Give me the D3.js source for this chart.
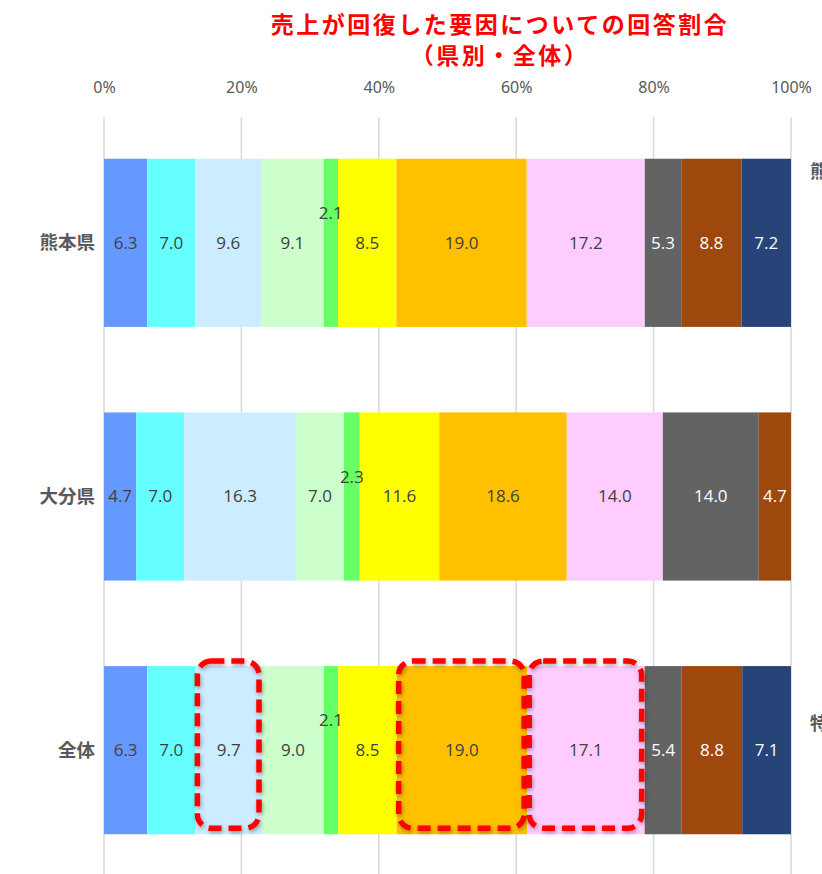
<!DOCTYPE html>
<html>
<head>
<meta charset="utf-8">
<script src="https://cdn.jsdelivr.net/npm/d3@7"></script>
<style>
  body { margin: 0; background: #fff; }
  svg { display: block; }
</style>
</head>
<body>
<svg id="chart" width="822" height="874"></svg>
<script>
// categories (rows) and series values (percent)
var categories = ["熊本県", "大分県", "全体"];
var kumamoto = [6.3, 7.0, 9.6, 9.1, 2.1, 8.5, 19.0, 17.2, 5.3, 8.8, 7.2];
var oita     = [4.7, 7.0, 16.3, 7.0, 2.3, 11.6, 18.6, 14.0, 14.0, 4.7, 0];
var total    = [6.3, 7.0, 9.7, 9.0, 2.1, 8.5, 19.0, 17.1, 5.4, 8.8, 7.1];
var tickValues = [0, 0.2, 0.4, 0.6, 0.8, 1.0];
var highlighted = [2, 6, 7];   // series boxed with red dashes in the 全体 row
var sideNotes = ["熊", "特"];  // legend text cut off at the right edge

var seriesColors = ["#6699FF", "#66FFFF", "#CCECFF", "#CCFFCC", "#66FF66", "#FFFF00",
                    "#FFC000", "#FFCCFF", "#636363", "#9E480E", "#264478"];
var lightText = [8, 9, 10];

var rows = [kumamoto, oita, total];
var keys = d3.range(kumamoto.length);
var table = categories.map(function(c, i){
    var o = {cat: c};
    keys.forEach(function(k){ o[k] = rows[i][k]; });
    return o;
});

var svg = d3.select("#chart");
var margin = {left: 104, right: 31};
var width = 822;

var x = d3.scaleLinear().domain([0, 1]).range([margin.left, width - margin.right]);
var y = d3.scaleBand().domain(categories).range([116, 877])
    .paddingInner(0.337).paddingOuter(0.1685);

var stack = d3.stack().keys(keys).offset(d3.stackOffsetExpand);
var series = stack(table);

// title
var titleLines = ["売上が回復した要因についての回答割合", "（県別・全体）"];
svg.append("g").selectAll("text")
    .data(titleLines)
    .join("text")
    .attr("x", 500)
    .attr("y", function(d, i){ return 33 + i * 31; })
    .attr("text-anchor", "middle")
    .style("font-family", "'Noto Sans CJK JP'")
    .style("font-weight", "bold")
    .style("font-size", "23px")
    .style("letter-spacing", "2.5px")
    .style("fill", "#FF0000")
    .text(function(d){ return d; });

// gridlines
svg.append("g").selectAll("line")
    .data(tickValues)
    .join("line")
    .attr("x1", function(d){ return x(d); })
    .attr("x2", function(d){ return x(d); })
    .attr("y1", 117).attr("y2", 874)
    .attr("stroke", "#D9D9D9")
    .attr("stroke-width", 1.5);

// top axis
var axis = svg.append("g")
    .attr("transform", "translate(0,93)")
    .call(d3.axisTop(x).tickValues(tickValues).tickFormat(d3.format(".0%")).tickSize(0).tickPadding(0));
axis.select(".domain").remove();
axis.selectAll("text")
    .style("font-family", "'Noto Sans'")
    .style("font-size", "16px")
    .style("fill", "#595959");

// category labels
svg.append("g").selectAll("text")
    .data(categories)
    .join("text")
    .attr("x", 95)
    .attr("y", function(d){ return y(d) + y.bandwidth() / 2; })
    .attr("dy", "0.35em")
    .attr("text-anchor", "end")
    .style("font-family", "'Noto Sans CJK JP'")
    .style("font-weight", "bold")
    .style("font-size", "18.5px")
    .style("fill", "#595959")
    .text(function(d){ return d; });

// bars
var groups = svg.append("g").selectAll("g")
    .data(series)
    .join("g")
    .attr("fill", function(d){ return seriesColors[d.key]; });

groups.selectAll("rect")
    .data(function(d){ return d; })
    .join("rect")
    .attr("x", function(d){ return x(d[0]); })
    .attr("y", function(d){ return y(d.data.cat); })
    .attr("width", function(d){ return x(d[1]) - x(d[0]); })
    .attr("height", y.bandwidth());

// value labels
var labels = svg.append("g")
    .style("font-family", "'Open Sans'")
    .style("font-size", "17px");
series.forEach(function(s){
    s.forEach(function(d){
        var v = d.data[s.key];
        if (v <= 0) return;
        var small = v < 3;
        var dy = small ? (d.data.cat == "大分県" ? -19 : -30) : 0;
        labels.append("text")
            .attr("x", (x(d[0]) + x(d[1])) / 2)
            .attr("y", y(d.data.cat) + y.bandwidth() / 2 + dy)
            .attr("dy", "0.35em")
            .attr("text-anchor", "middle")
            .style("fill", lightText.indexOf(s.key) >= 0 ? "#FFFFFF" : "#404040")
            .text(v.toFixed(1));
    });
});

// red dashed highlight boxes (全体 row)
var defs = svg.append("defs");
var f = defs.append("filter").attr("id", "shadow")
    .attr("x", "-20%").attr("y", "-20%").attr("width", "140%").attr("height", "140%");
f.append("feDropShadow").attr("dx", 1).attr("dy", 2).attr("stdDeviation", 2)
    .attr("flood-color", "#000").attr("flood-opacity", 0.35);

var lastRow = categories.length - 1;
svg.append("g").selectAll("rect")
    .data(highlighted)
    .join("rect")
    .attr("x", function(k){ return x(series[k][lastRow][0]) + 2; })
    .attr("y", y("全体") - 5)
    .attr("width", function(k){ return x(series[k][lastRow][1]) - x(series[k][lastRow][0]) - 5; })
    .attr("height", y.bandwidth() - 1)
    .attr("rx", 14).attr("ry", 14)
    .attr("fill", "none")
    .attr("stroke", "#FF0000")
    .attr("stroke-width", 5.5)
    .attr("stroke-dasharray", "13,7")
    .attr("filter", "url(#shadow)");

// cut-off legend text at the right
svg.append("g").selectAll("text")
    .data(sideNotes)
    .join("text")
    .attr("x", 810)
    .attr("y", function(d, i){ return i == 0 ? 178 : 730; })
    .style("font-family", "'Noto Sans CJK JP'")
    .style("font-weight", "bold")
    .style("font-size", "18px")
    .style("fill", "#595959")
    .text(function(d){ return d; });
</script>
</body>
</html>
